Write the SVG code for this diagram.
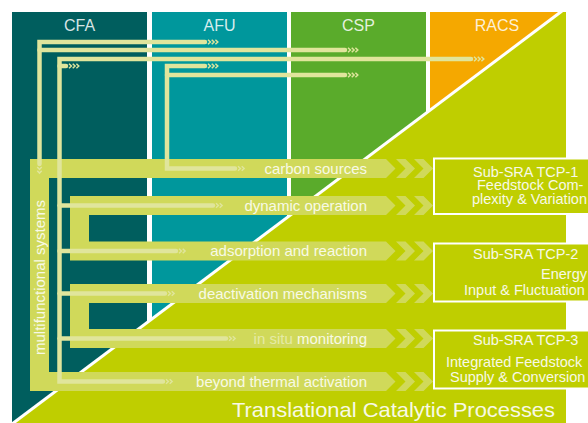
<svg xmlns="http://www.w3.org/2000/svg" width="588" height="423" viewBox="0 0 588 423">
<style>
.hdr{font-family:"Liberation Sans",Arial,sans-serif;font-size:16px;fill:#ffffff;fill-opacity:0.85;text-anchor:middle}
.lbl{font-family:"Liberation Sans",Arial,sans-serif;font-size:15px;fill:#f8f9e6;text-anchor:end}
.box{font-family:"Liberation Sans",Arial,sans-serif;font-size:14.5px;fill:#f8f9e6}
.band{fill:#d0d95a}
.chev{fill:#d0d95a}
.ln{fill:none;stroke:#e0e59c;stroke-width:4.5;stroke-linecap:round;stroke-linejoin:miter}
.sub{fill:#bfce00;stroke:#ffffff;stroke-width:2}
</style>
<defs>
<marker id="m3" markerUnits="userSpaceOnUse" markerWidth="14" markerHeight="8" refX="-3" refY="4" orient="auto" overflow="visible">
<path d="M0,1.8 L2.4,4 L0,6.2 M3.7,1.8 L6.1,4 L3.7,6.2 M7.4,1.8 L9.8,4 L7.4,6.2" fill="none" stroke="#e0e59c" stroke-width="1.5"/>
</marker>
<marker id="m3s" markerUnits="userSpaceOnUse" markerWidth="14" markerHeight="8" refX="-3" refY="4" orient="auto-start-reverse" overflow="visible">
<path d="M0,1.8 L2.4,4 L0,6.2 M3.7,1.8 L6.1,4 L3.7,6.2 M7.4,1.8 L9.8,4 L7.4,6.2" fill="none" stroke="#e0e59c" stroke-width="1.5"/>
</marker>
<marker id="m2" markerUnits="userSpaceOnUse" markerWidth="10" markerHeight="8" refX="-3" refY="4" orient="auto" overflow="visible">
<path d="M0,1.8 L2.4,4 L0,6.2 M3.7,1.8 L6.1,4 L3.7,6.2" fill="none" stroke="#e0e59c" stroke-width="1.5"/>
</marker>
<path id="ch" d="M0,-9.5 H9.5 L19,0 L9.5,9.5 H0 L9.5,0 Z"/>
</defs>
<rect width="588" height="423" fill="#ffffff"/>

<g id="cfa"><rect x="12" y="12" width="135" height="411" fill="#005e5e"/><text class="hdr" x="79.5" y="31">CFA</text></g>
<g id="afu"><rect x="152" y="12" width="135" height="411" fill="#00979c"/><text class="hdr" x="219.5" y="31">AFU</text></g>
<g id="csp"><rect x="291" y="12" width="135" height="411" fill="#5aab2b"/><text class="hdr" x="358.5" y="31">CSP</text></g>
<g id="racs"><rect x="430" y="12" width="136" height="411" fill="#f5a800"/><text class="hdr" x="497" y="31">RACS</text></g>

<g id="tcp">
<polygon points="561,12 566,12 566,423 13,423" fill="#bfce00"/>
<line x1="562" y1="11" x2="12" y2="424" stroke="#ffffff" stroke-width="3"/>
<text x="232" y="417" font-family="'Liberation Sans',Arial,sans-serif" font-size="21" fill="#f8f9e6" textLength="323" lengthAdjust="spacingAndGlyphs">Translational Catalytic Processes</text>
</g>

<g id="multifunctional">
<path class="band" d="M30,159 H386 L395.5,168.5 L386,178 H49 V372 H386 L395.5,381.5 L386,391 H30 Z"/>
<text x="44.5" y="355" transform="rotate(-90 44.5 355)" font-family="'Liberation Sans',Arial,sans-serif" font-size="15" fill="#f8f9e6">multifunctional systems</text>
</g>
<g id="bracket1">
<path class="band" d="M70,196 H386 L395.5,205.5 L386,215 H89 V241.5 H386 L395.5,251 L386,260.5 H70 Z"/>
</g>
<g id="bracket2">
<path class="band" d="M70,284 H386 L395.5,293.5 L386,303 H89 V329 H386 L395.5,338.5 L386,348 H70 Z"/>
</g>

<g id="chevrons">
<use href="#ch" class="chev" x="396" y="168.5"/><use href="#ch" class="chev" x="414" y="168.5"/>
<use href="#ch" class="chev" x="396" y="205.5"/><use href="#ch" class="chev" x="414" y="205.5"/>
<use href="#ch" class="chev" x="396" y="251"/><use href="#ch" class="chev" x="414" y="251"/>
<use href="#ch" class="chev" x="396" y="293.5"/><use href="#ch" class="chev" x="414" y="293.5"/>
<use href="#ch" class="chev" x="396" y="338.5"/><use href="#ch" class="chev" x="414" y="338.5"/>
<use href="#ch" class="chev" x="396" y="381.5"/><use href="#ch" class="chev" x="414" y="381.5"/>
</g>

<g id="connectors">
<path class="ln" d="M205,42 H39.5 V164" marker-start="url(#m3s)" marker-end="url(#m2)"/>
<path class="ln" d="M39.5,50 H345" marker-end="url(#m3)"/>
<path class="ln" d="M471,59 H59.5 V381.5 H163" marker-start="url(#m3s)" marker-end="url(#m2)"/>
<path class="ln" d="M59.5,66 H66" marker-end="url(#m3)"/>
<path class="ln" d="M59.5,205.5 H213" marker-end="url(#m2)"/>
<path class="ln" d="M59.5,251 H176" marker-end="url(#m2)"/>
<path class="ln" d="M59.5,293.5 H165" marker-end="url(#m2)"/>
<path class="ln" d="M59.5,338.5 H226" marker-end="url(#m2)"/>
<path class="ln" d="M205,66 H167 V168.5 H235" marker-start="url(#m3s)" marker-end="url(#m2)"/>
<path class="ln" d="M167,75 H345" marker-end="url(#m3)"/>
</g>

<g id="labels">
<text class="lbl" x="367" y="173.5">carbon sources</text>
<text class="lbl" x="367" y="210.5">dynamic operation</text>
<text class="lbl" x="367" y="256">adsorption and reaction</text>
<text class="lbl" x="367" y="298.5">deactivation mechanisms</text>
<text class="lbl" x="367" y="343.5"><tspan fill-opacity="0.55">in situ</tspan> monitoring</text>
<text class="lbl" x="367" y="386.5">beyond thermal activation</text>
</g>

<g id="tcp1">
<rect class="sub" x="434" y="158.5" width="170" height="55.5"/>
<text class="box" x="473" y="176.5">Sub-SRA TCP-1</text>
<text class="box" x="477" y="190">Feedstock Com-</text>
<text class="box" x="472" y="203.5">plexity &amp; Variation</text>
</g>
<g id="tcp2">
<rect class="sub" x="434" y="243.5" width="170" height="58"/>
<text class="box" x="473" y="258.5">Sub-SRA TCP-2</text>
<text class="box" x="541" y="279">Energy</text>
<text class="box" x="464" y="295">Input &amp; Fluctuation</text>
</g>
<g id="tcp3">
<rect class="sub" x="434" y="330.5" width="170" height="58"/>
<text class="box" x="473" y="345">Sub-SRA TCP-3</text>
<text class="box" x="446" y="367">Integrated Feedstock</text>
<text class="box" x="450" y="382">Supply &amp; Conversion</text>
</g>
</svg>
